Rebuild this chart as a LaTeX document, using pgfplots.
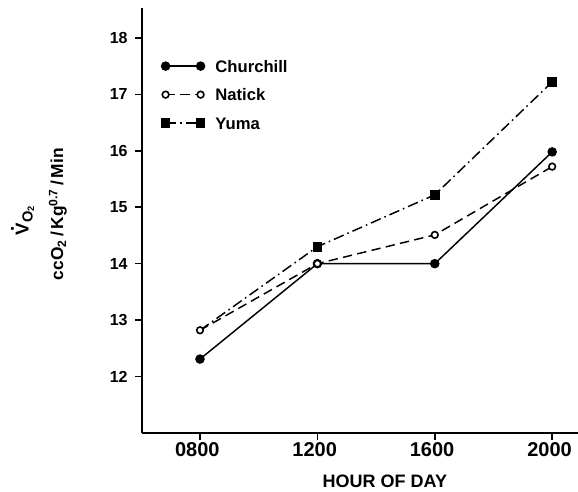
\documentclass[border=0pt]{standalone}
\usepackage{fontspec}
\setmainfont{Liberation Sans}
\usepackage{pgfplots}
\pgfplotsset{compat=1.18}
\begin{document}
\begin{tikzpicture}
\path[use as bounding box] (0,0) rectangle (433.5pt,369pt);
\begin{axis}[
  at={(106.5pt,44.25pt)}, anchor=south west,
  scale only axis, width=327pt, height=318.75pt,
  xmin=-0.494, xmax=3.22, ymin=11, ymax=18.53,
  axis x line*=bottom, axis y line*=left,
  axis line style={line width=1.8pt},
  tick align=outside, major tick length=5.25pt,
  tick style={line width=1.2pt, black},
  xtick={0,1,2,3}, xticklabels={0800,1200,1600,2000},
  ytick={12,13,14,15,16,17,18},
  /pgf/number format/assume math mode=true,
  xticklabel style={font=\fontsize{15}{15}\selectfont\bfseries, yshift=2pt, xshift=-2pt},
  yticklabel style={font=\fontsize{12}{12}\selectfont\bfseries, xshift=-2pt},
  xlabel={HOUR OF DAY},
  xlabel style={font=\fontsize{13.5}{13.5}\selectfont\bfseries, at={(axis description cs:0.557,0)}, anchor=center, yshift=-36pt},
  legend image code/.code={\draw[#1, yshift=4.5pt, mark repeat=1, mark phase=1, mark indices={1,2}] plot coordinates {(0pt,0pt) (26.25pt,0pt)};},
  legend style={draw=none, fill=none, at={(0.044,0.878)}, anchor=north west, inner sep=0pt,
    nodes={inner sep=0pt, text height=9pt, text depth=2pt, anchor=base west},
    row sep=10.4pt, font=\fontsize{12.5}{12.5}\selectfont\bfseries,
    /tikz/every odd column/.append style={column sep=8pt}},
  legend cell align=left,
  clip=false,
]
\addplot[black, line width=1.1pt, mark=*, mark size=3pt] coordinates {(0,12.31) (1,14.0) (2,14.0) (3,15.98)};
\addlegendentry{Churchill}
\addplot[black, line width=1.1pt, dash pattern=on 7pt off 4pt, mark=*, mark size=2.5pt, mark options={solid, fill=white, line width=1.2pt}] coordinates {(0,12.82) (1,14.0) (2,14.51) (3,15.72)};
\addlegendentry{Natick}
\addplot[black, line width=1.1pt, dash pattern=on 8pt off 3pt on 1.2pt off 3pt, mark=square*, mark size=3.1pt, mark options={solid}, mark indices={2,3,4}] coordinates {(0,12.82) (1,14.30) (2,15.22) (3,17.22)};
\addlegendentry{Yuma}
\node[rotate=90, anchor=center, inner sep=0pt] at (axis description cs:-0.274,0.50) {\fontsize{14}{14}\selectfont\bfseries \rlap{\hspace{0.19em}\raisebox{0.8em}{.}}V\raisebox{-3pt}{\fontsize{11}{11}\selectfont\bfseries O}\raisebox{-4pt}{\fontsize{7}{7}\selectfont\bfseries 2}};
\node[font=\fontsize{13}{13}\selectfont\bfseries, rotate=90, anchor=center] at (axis description cs:-0.193,0.515) {ccO\textsubscript{2}\,/\,Kg\textsuperscript{0.7}\,/\,Min};
\end{axis}
\end{tikzpicture}
\end{document}
